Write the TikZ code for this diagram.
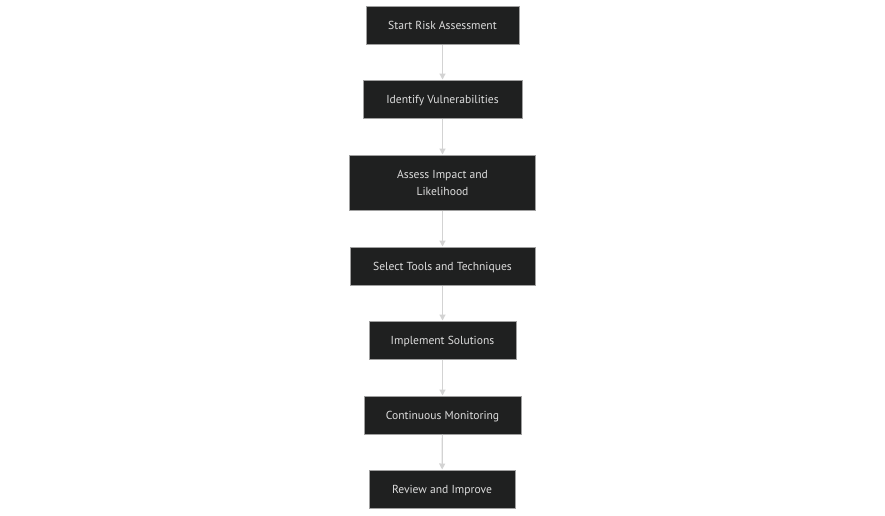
\documentclass[tikz,border=0pt]{standalone}
\usepackage{fontspec}
\setmainfont{PT Sans}
\usetikzlibrary{arrows.meta}
\definecolor{boxfill}{HTML}{1F2020}
\definecolor{boxline}{HTML}{A0A0A0}
\definecolor{boxtext}{HTML}{DDDDDD}
\definecolor{edge}{HTML}{D3D3D3}
\begin{document}
\begin{tikzpicture}[x=0.75pt,y=-0.75pt,
  basebox/.style={draw=boxline, line width=0.75pt, fill=boxfill, text=boxtext,
    font=\fontsize{8.7pt}{12.75pt}\selectfont, align=center, inner sep=0pt, anchor=center},
  stepbox/.style={basebox, minimum height=28.5pt, text height=7pt, text depth=0.6pt},
  tallbox/.style={basebox, minimum height=41.25pt},
  flow/.style={draw=edge, line width=0.9pt, -{Triangle[length=4.5pt,width=4.5pt]}}]
\useasboundingbox[fill=white] (0,0) rectangle (885,515);
\node[stepbox, minimum width=114.75pt] (n1) at (442.5,25) {Start Risk Assessment};
\node[stepbox, minimum width=119.25pt] (n2) at (442.5,99) {Identify Vulnerabilities};
\node[tallbox, minimum width=139.5pt] (n3) at (442.5,182.5) {Assess Impact and\\Likelihood};
\node[stepbox, minimum width=138.75pt] (n4) at (442.5,266) {Select Tools and Techniques};
\node[stepbox, minimum width=110.25pt] (n5) at (442.5,340) {Implement Solutions};
\node[stepbox, minimum width=117.75pt] (n6) at (442.5,415) {Continuous Monitoring};
\node[stepbox, minimum width=109.5pt] (n7) at (442,489) {Review and Improve};
\draw[flow] (n1) -- (n2);
\draw[flow] (n2) -- (n3);
\draw[flow] (n3) -- (n4);
\draw[flow] (n4) -- (n5);
\draw[flow] (n5) -- (n6);
\draw[flow] (n6) -- (n7);
\end{tikzpicture}
\end{document}
